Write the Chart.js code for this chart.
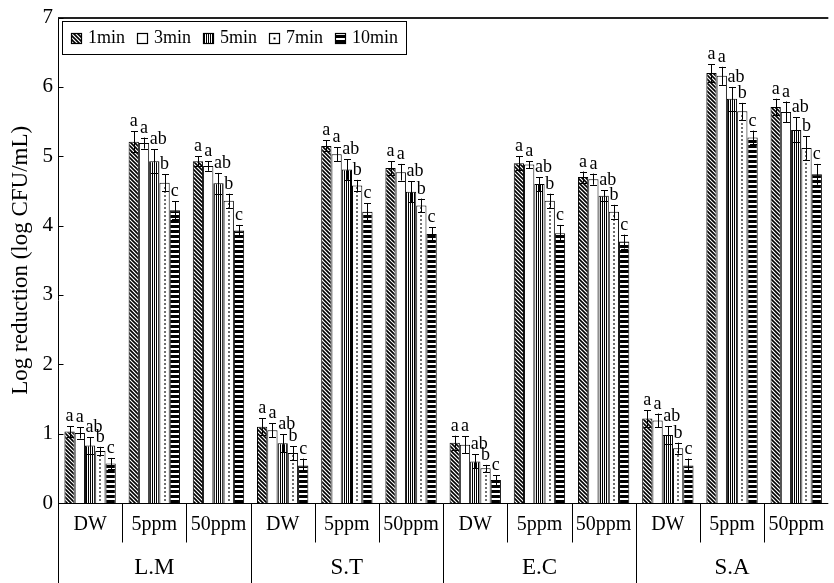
<!DOCTYPE html>
<html>
<head>
<meta charset="utf-8">
<script src="https://cdn.jsdelivr.net/npm/chart.js@4.4.1/dist/chart.umd.min.js"></script>
<style>
  html, body { margin: 0; padding: 0; background: #fff; }
  #wrap { width: 834px; height: 583px; }
</style>
</head>
<body>
<div id="wrap"><canvas id="c" width="834" height="583"></canvas></div>
<script>
// Treatments (inner axis) and organisms (outer axis)
const treatments = ['DW', '5ppm', '50ppm', 'DW', '5ppm', '50ppm', 'DW', '5ppm', '50ppm', 'DW', '5ppm', '50ppm'];
const bacteria = ['L.M', 'S.T', 'E.C', 'S.A'];
const seriesNames = ['1min', '3min', '5min', '7min', '10min'];

// Mean log reductions per exposure time
const min1  = [1.03, 5.21, 4.93, 1.10, 5.15, 4.83, 0.87, 4.90, 4.70, 1.22, 6.20, 5.71];
const min3  = [1.01, 5.19, 4.86, 1.05, 5.03, 4.77, 0.84, 4.88, 4.67, 1.19, 6.16, 5.64];
const min5  = [0.83, 4.93, 4.61, 0.86, 4.81, 4.49, 0.60, 4.60, 4.43, 0.98, 5.83, 5.38];
const min7  = [0.75, 4.62, 4.36, 0.72, 4.58, 4.29, 0.50, 4.36, 4.20, 0.79, 5.65, 5.12];
const min10 = [0.57, 4.22, 3.93, 0.54, 4.20, 3.88, 0.33, 3.89, 3.77, 0.54, 5.27, 4.74];

// Standard deviations
const err1  = [0.08, 0.15, 0.07, 0.12, 0.08, 0.10, 0.10, 0.10, 0.08, 0.12, 0.13, 0.12];
const err3  = [0.08, 0.08, 0.07, 0.10, 0.10, 0.12, 0.12, 0.05, 0.08, 0.10, 0.13, 0.15];
const err5  = [0.12, 0.17, 0.15, 0.13, 0.15, 0.15, 0.10, 0.10, 0.08, 0.13, 0.17, 0.18];
const err7  = [0.06, 0.12, 0.10, 0.10, 0.08, 0.10, 0.05, 0.10, 0.10, 0.08, 0.12, 0.17];
const err10 = [0.08, 0.13, 0.08, 0.10, 0.12, 0.10, 0.07, 0.12, 0.10, 0.10, 0.10, 0.15];

// Significance letters, same order as the series
const sigLetters = ['a', 'a', 'ab', 'b', 'c'];

const yTicks = [0, 1, 2, 3, 4, 5, 6, 7];

const SERIF = "'Liberation Serif', 'Times New Roman', serif";

function makePattern(kind) {
  const c = document.createElement('canvas');
  const g = c.getContext('2d');
  if (kind === 'diag') {
    c.width = 4; c.height = 4;
    g.fillStyle = '#fff'; g.fillRect(0, 0, 4, 4);
    g.strokeStyle = '#000'; g.lineWidth = 1.6;
    g.beginPath();
    g.moveTo(-1, -1); g.lineTo(5, 5);
    g.moveTo(-1, 3); g.lineTo(1, 5);
    g.moveTo(3, -1); g.lineTo(5, 1);
    g.stroke();
  } else if (kind === 'vert') {
    c.width = 2; c.height = 2;
    g.fillStyle = '#fff'; g.fillRect(0, 0, 2, 2);
    g.fillStyle = '#000'; g.fillRect(0, 0, 1, 2);
  } else if (kind === 'horiz') {
    c.width = 2; c.height = 5;
    g.fillStyle = '#fff'; g.fillRect(0, 0, 2, 5);
    g.fillStyle = '#000'; g.fillRect(0, 0, 2, 3);
  } else {
    c.width = 2; c.height = 2;
    g.fillStyle = '#fff'; g.fillRect(0, 0, 2, 2);
  }
  const ctx = document.createElement('canvas').getContext('2d');
  return ctx.createPattern(c, 'repeat');
}

const fills = [makePattern('diag'), '#ffffff', makePattern('vert'), '#ffffff', makePattern('horiz')];
const values = [min1, min3, min5, min7, min10];
const errors = [err1, err3, err5, err7, err10];

const datasets = seriesNames.map((name, i) => ({
  label: name,
  data: values[i],
  errors: errors[i],
  letter: sigLetters[i],
  backgroundColor: fills[i],
  borderColor: '#000',
  borderWidth: 1,
  borderSkipped: 'start',
  categoryPercentage: 0.8,
  barPercentage: 1.0,
  xAxisID: 'x',
  yAxisID: 'y'
}));

// Dotted centre line of the 7min bars, error bars and letters
const barExtras = {
  id: 'barExtras',
  afterDatasetsDraw(chart) {
    const ctx = chart.ctx;
    const y = chart.scales.y;
    ctx.save();
    // dotted line inside the 7min bars
    const m7 = chart.getDatasetMeta(3);
    ctx.fillStyle = '#000';
    m7.data.forEach(bar => {
      const cx = Math.round(bar.x) - 0.5;
      for (let py = bar.base - 3; py > bar.y + 2; py -= 4) {
        ctx.fillRect(cx - 0.25, py - 0.75, 1.5, 1.5);
      }
    });
    // error bars
    ctx.strokeStyle = '#000';
    ctx.lineWidth = 1;
    chart.data.datasets.forEach((ds, di) => {
      const meta = chart.getDatasetMeta(di);
      meta.data.forEach((bar, i) => {
        const v = ds.data[i], e = ds.errors[i];
        const yt = y.getPixelForValue(v + e);
        const yb = y.getPixelForValue(v - e);
        const x = Math.round(bar.x) + 0.5;
        ctx.beginPath();
        ctx.moveTo(x, yt); ctx.lineTo(x, yb);
        ctx.moveTo(x - 3.5, Math.round(yt) + 0.5); ctx.lineTo(x + 3.5, Math.round(yt) + 0.5);
        ctx.moveTo(x - 3.5, Math.round(yb) + 0.5); ctx.lineTo(x + 3.5, Math.round(yb) + 0.5);
        ctx.stroke();
      });
    });
    // letters
    ctx.font = '18px ' + SERIF;
    ctx.textAlign = 'center';
    ctx.textBaseline = 'alphabetic';
    ctx.fillStyle = '#000';
    chart.data.datasets.forEach((ds, di) => {
      const meta = chart.getDatasetMeta(di);
      meta.data.forEach((bar, i) => {
        const yt = y.getPixelForValue(ds.data[i] + ds.errors[i]);
        const dx = ds.letter.length > 1 ? 4 : 0;
        ctx.fillText(ds.letter, bar.x + dx, yt - 5);
      });
    });
    ctx.restore();
  }
};

// Frame, inward y ticks and the two-level category separators
const frame = {
  id: 'frame',
  afterDraw(chart) {
    const ctx = chart.ctx;
    const a = chart.chartArea;
    const x = chart.scales.x;
    const y = chart.scales.y;
    const H = chart.height;
    ctx.save();
    ctx.strokeStyle = '#000';
    ctx.lineWidth = 1;
    const L = Math.round(a.left) + 0.5;
    const B = Math.round(a.bottom) + 0.5;
    ctx.beginPath();
    ctx.moveTo(L, a.top); ctx.lineTo(L, H);
    ctx.moveTo(a.left, B); ctx.lineTo(a.right, B);
    ctx.stroke();
    ctx.lineWidth = 2;
    ctx.strokeStyle = '#222';
    ctx.beginPath();
    ctx.moveTo(a.left, Math.round(a.top)); ctx.lineTo(a.right, Math.round(a.top));
    ctx.stroke();
    ctx.strokeStyle = '#000';
    ctx.lineWidth = 1;
    ctx.beginPath();
    yTicks.forEach(t => {
      const py = Math.round(y.getPixelForValue(t)) + 0.5;
      ctx.moveTo(L, py); ctx.lineTo(L + 5, py);
    });
    for (let i = 1; i < treatments.length; i++) {
      const px = Math.round((x.getPixelForValue(i - 1) + x.getPixelForValue(i)) / 2) + 0.5;
      ctx.moveTo(px, B);
      ctx.lineTo(px, i % 3 === 0 ? H : B + 39);
    }
    ctx.stroke();
    ctx.restore();
  }
};

// Boxed legend in the upper-left corner of the plot
const boxLegend = {
  id: 'boxLegend',
  afterDraw(chart) {
    const ctx = chart.ctx;
    const a = chart.chartArea;
    ctx.save();
    ctx.font = '18px ' + SERIF;
    const left = a.left + 4, top = a.top + 3, h = 33;
    const cy = top + h / 2 + 1;
    let px = left + 9;
    const items = chart.data.datasets.map((ds, i) => {
      const w = ctx.measureText(ds.label).width;
      const it = { ds, i, sx: px, tx: px + 17, w };
      px = px + 17 + w + 12;
      return it;
    });
    const right = px - 4;
    ctx.fillStyle = '#fff';
    ctx.fillRect(left, top, right - left, h);
    ctx.strokeStyle = '#000';
    ctx.lineWidth = 1;
    ctx.strokeRect(Math.round(left) + 0.5, Math.round(top) + 0.5, Math.round(right - left), h);
    items.forEach(it => {
      const sx = Math.round(it.sx) + 0.5, sy = Math.round(cy - 5) + 0.5;
      ctx.fillStyle = it.ds.backgroundColor;
      ctx.fillRect(sx, sy, 10, 10);
      ctx.strokeStyle = '#000';
      ctx.lineWidth = 1.2;
      ctx.strokeRect(sx, sy, 10, 10);
      if (it.i === 3) {
        ctx.fillStyle = '#000';
        ctx.fillRect(sx + 4, sy + 4, 2, 2);
      }
      ctx.fillStyle = '#000';
      ctx.textAlign = 'left';
      ctx.textBaseline = 'middle';
      ctx.fillText(it.ds.label, it.tx, cy);
    });
    ctx.restore();
  }
};

new Chart(document.getElementById('c'), {
  type: 'bar',
  data: { labels: treatments, datasets },
  options: {
    responsive: false,
    devicePixelRatio: 1,
    animation: false,
    layout: { padding: { top: 15, right: 0, bottom: 0, left: 0 } },
    plugins: { legend: { display: false }, tooltip: { enabled: false } },
    scales: {
      x: {
        type: 'category',
        position: 'bottom',
        weight: 0,
        offset: true,
        grid: { display: false, drawTicks: false },
        border: { display: false },
        ticks: { color: '#000', font: { family: SERIF, size: 20 }, padding: 10, maxRotation: 0, autoSkip: false },
        afterFit: s => { s.height = 40; }
      },
      x2: {
        type: 'category',
        position: 'bottom',
        weight: 1,
        labels: bacteria,
        offset: true,
        grid: { display: false, drawTicks: false },
        border: { display: false },
        ticks: { color: '#000', font: { family: SERIF, size: 23 }, padding: 11, maxRotation: 0, autoSkip: false },
        afterFit: s => { s.height = 40; }
      },
      y: {
        min: 0,
        max: 7,
        afterBuildTicks: s => { s.ticks = yTicks.map(v => ({ value: v })); },
        grid: { display: false, drawTicks: false },
        border: { display: false },
        ticks: { color: '#000', font: { family: SERIF, size: 21 }, padding: 5 },
        title: {
          display: true,
          text: 'Log reduction (log CFU/mL)',
          color: '#000',
          font: { family: SERIF, size: 23 },
          padding: { top: 7, bottom: 0 }
        },
        afterFit: s => { s.width = 58; }
      }
    }
  },
  plugins: [barExtras, frame, boxLegend]
});
</script>
</body>
</html>
